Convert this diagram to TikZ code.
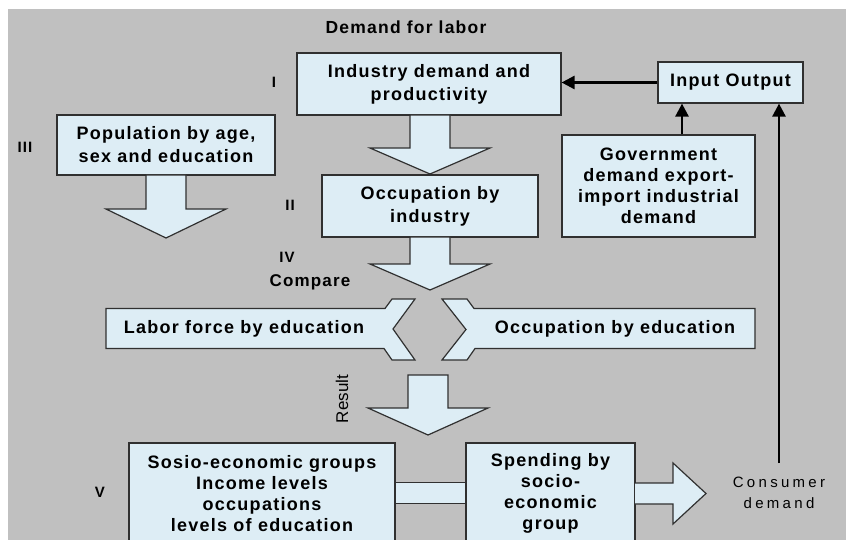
\documentclass[tikz,border=0pt]{standalone}
\usepackage{fontspec}
\setmainfont{Liberation Sans}
\newfontfamily\lblfont[LetterSpace=7]{Liberation Sans}
\newfontfamily\widefont[LetterSpace=22]{Liberation Sans}
\usetikzlibrary{arrows.meta}
\definecolor{bggrey}{RGB}{192,192,192}
\definecolor{boxfill}{RGB}{221,237,245}
\definecolor{edge}{RGB}{48,48,48}

% block arrow pointing down: centre x, top, neck, tip
\newcommand\blockdown[4]{%
  \draw[blockarrow] ({#1-20},#2) -- ({#1-20},#3) -- ({#1-60},#3) -- (#1,#4)
    -- ({#1+60},#3) -- ({#1+20},#3) -- ({#1+20},#2) -- cycle;}

\begin{document}
\begin{tikzpicture}[x=1pt,y=-1pt,
  box/.style={draw=edge, fill=boxfill, line width=1.2pt, align=center, inner sep=0pt,
    font=\lblfont\bfseries\fontsize{18}{23}\selectfont},
  tallbox/.style={box, font=\lblfont\bfseries\fontsize{18}{21}\selectfont},
  txt/.style={align=center, inner sep=0pt, font=\lblfont\bfseries\fontsize{18}{23}\selectfont},
  numeral/.style={inner sep=0pt, font=\lblfont\bfseries\fontsize{15}{18}\selectfont},
  blockarrow/.style={draw=edge, fill=boxfill, line width=1.2pt, line join=miter},
  conn/.style={draw=black, line width=2.6pt, -{Triangle[length=13pt,width=13pt]}},
]
\useasboundingbox (0,0) rectangle (846,540);
\clip (0,0) rectangle (846,540);
\fill[white] (0,0) rectangle (846,540);
\fill[bggrey] (8,9) rectangle (846,540);

% title
\node[inner sep=0pt, font=\lblfont\bfseries\fontsize{17.5}{20}\selectfont] (title) at (406,27) {Demand for labor};

% main boxes
\node[box, minimum width=264, minimum height=62] (ind) at (429,84) {Industry demand and\\productivity};
\node[box, minimum width=218, minimum height=60] (pop) at (166,145) {Population by age,\\sex and education};
\node[box, minimum width=216, minimum height=62] (occ) at (430,206) {Occupation by\\industry};
\node[box, minimum width=145, minimum height=41] (io) at (730.5,82.5) {Input Output};
\node[tallbox, minimum width=193, minimum height=102] (gov) at (658.5,186) {Government\\demand export-\\import industrial\\demand};

% numerals
\node[numeral] (n1) at (274,82) {I};
\node[numeral] (n3) at (25,147) {III};
\node[numeral] (n2) at (290,205) {II};
\node[numeral] (n4) at (287,257) {IV};
\node[numeral] (n5) at (100,492) {V};
\node[txt, font=\lblfont\bfseries\fontsize{17}{20}\selectfont] (cmp) at (310,282) {Compare};

% down block arrows
\blockdown{430}{115}{148}{174}
\blockdown{430}{237}{264}{290}
\blockdown{166}{175}{209}{238}
\blockdown{428}{375}{408}{435}

% compared pair with chevrons
\draw[blockarrow] (106,308.5) -- (385,308.5) -- (392,299) -- (415,299) -- (393,329)
  -- (415,360) -- (392,360) -- (384,348.5) -- (106,348.5) -- cycle;
\node[txt] (lab) at (244,329) {Labor force by education};
\draw[blockarrow] (442,299) -- (467,299) -- (474,308.5) -- (755,308.5) -- (755,348.5)
  -- (475,348.5) -- (467,360) -- (442,360) -- (466,329.5) -- cycle;
\node[txt] (occedu) at (615,329) {Occupation by education};

\node[rotate=90, inner sep=0pt, font=\fontsize{17}{20}\selectfont] (res) at (342,399) {Result};

% bottom row
\node[tallbox, minimum width=266, minimum height=101] (soc) at (262,493.5)
  {Sosio-economic groups\\Income levels\\occupations\\levels of education};
\node[tallbox, minimum width=169, minimum height=101] (spend) at (550.5,493.5)
  {Spending by\\socio-\\economic\\group};
\fill[boxfill] (395.6,482.5) rectangle (465.4,503.5);
\draw[edge, line width=1.2pt] (395.6,482.5) -- (465.4,482.5) (395.6,503.5) -- (465.4,503.5);
\draw[blockarrow] (635,483) -- (673,483) -- (673,463) -- (706,493.5) -- (673,524)
  -- (673,504) -- (635,504);

\node[align=center, inner sep=0pt, font=\widefont\fontsize{15}{21}\selectfont] (cons) at (779,492.5) {Consumer\\demand};
\coordinate (constop) at (779,463);

% connectors
\draw[conn] (io.west) -- (io.west -| ind.east);
\draw[conn] ([xshift=23.5pt]gov.north) -- ([xshift=23.5pt]gov.north |- io.south);
\draw[conn] (constop) -- (constop |- io.south);
\end{tikzpicture}
\end{document}
